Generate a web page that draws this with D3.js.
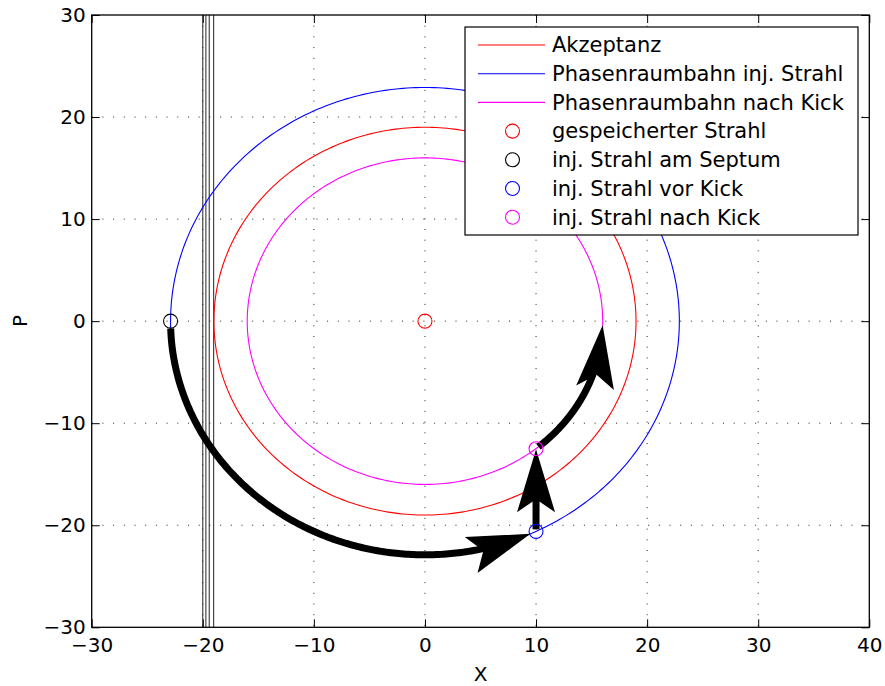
<!DOCTYPE html>
<html>
<head>
<meta charset="utf-8">
<script src="https://cdn.jsdelivr.net/npm/d3@7"></script>
<style>
  body { margin: 0; background: #fff; }
  svg { display: block; font-family: "DejaVu Sans", sans-serif; }
</style>
</head>
<body>
<svg id="chart"></svg>
<script>
// ticks
const xTicks = [-30, -20, -10, 0, 10, 20, 30, 40];
const yTicks = [-30, -20, -10, 0, 10, 20, 30];

// phase-space orbits (circles around origin)
const orbitNames = ["Akzeptanz", "Phasenraumbahn inj. Strahl", "Phasenraumbahn nach Kick"];
const orbitRadii = [19, 22.9, 16];
const orbitColors = ["#ff0000", "#0000ff", "#ff00ff"];

// beam positions
const beamNames = ["gespeicherter Strahl", "inj. Strahl am Septum", "inj. Strahl vor Kick", "inj. Strahl nach Kick"];
const beamX = [0, -22.9, 10, 10];
const beamY = [0, 0, -20.6, -12.5];
const beamColors = ["#ff0000", "#000000", "#0000ff", "#ff00ff"];

// septum blades
const septumX = [-20, -19.72, -19.42, -19.02];

// arrows: arcs [radius, start angle, end angle] (deg) and one straight kick
const arcRadius = [22.9, 16];
const arcStart = [181.8, -50.3];
const arcEnd = [294.5, -1.4];
const kickX = [10, 10];
const kickY = [-20.4, -12.55];

const width = 885, height = 686;
const margin = { left: 91.7, right: 885 - 869.3, top: 15, bottom: 686 - 627.3 };
const iw = width - margin.left - margin.right;
const ih = height - margin.top - margin.bottom;

const svg = d3.select("#chart").attr("width", width).attr("height", height);
const g = svg.append("g").attr("transform", `translate(${margin.left},${margin.top})`);

const x = d3.scaleLinear().domain([-30, 40]).range([0, iw]);
const y = d3.scaleLinear().domain([-30, 30]).range([ih, 0]);

// grid
g.append("g").selectAll("line").data(xTicks.slice(1, -1)).join("line")
  .attr("x1", d => x(d)).attr("x2", d => x(d)).attr("y1", 0).attr("y2", ih)
  .attr("stroke", "#222").attr("stroke-width", 1).attr("stroke-dasharray", "1,9.7");
g.append("g").selectAll("line").data(yTicks.slice(1, -1)).join("line")
  .attr("y1", d => y(d)).attr("y2", d => y(d)).attr("x1", 0).attr("x2", iw)
  .attr("stroke", "#222").attr("stroke-width", 1).attr("stroke-dasharray", "1,9.7");

// septum
g.append("g").selectAll("line").data(septumX).join("line")
  .attr("x1", d => x(d)).attr("x2", d => x(d)).attr("y1", 0).attr("y2", ih)
  .attr("stroke", "#222").attr("stroke-width", 1);

// orbits
const circ = d3.range(0, 361, 1);
const circleLine = r => d3.line()
  .x(t => x(r * Math.cos(t * Math.PI / 180)))
  .y(t => y(r * Math.sin(t * Math.PI / 180)))(circ);
orbitRadii.forEach((r, i) => {
  g.append("path").attr("d", circleLine(r)).attr("fill", "none")
    .attr("stroke", orbitColors[i]).attr("stroke-width", 1.1);
});

// arrows
const headLen = 63, headHalf = 19, notch = 50;
function drawArrow(pts) {
  // pts in pixels; tip is last point
  const tip = pts[pts.length - 1];
  const back = s => {
    let a = 0;
    for (let i = pts.length - 1; i > 0; i--) {
      const l = Math.hypot(pts[i][0] - pts[i - 1][0], pts[i][1] - pts[i - 1][1]);
      if (a + l >= s) {
        const f = (s - a) / l;
        return { i: i, p: [pts[i][0] + (pts[i - 1][0] - pts[i][0]) * f, pts[i][1] + (pts[i - 1][1] - pts[i][1]) * f] };
      }
      a += l;
    }
    return { i: 1, p: pts[0] };
  };
  const ref = back(headLen * 0.45).p;
  let ux = tip[0] - ref[0], uy = tip[1] - ref[1];
  const ul = Math.hypot(ux, uy); ux /= ul; uy /= ul;
  const nx = -uy, ny = ux;
  const nb = back(notch - 3);
  const shaft = pts.slice(0, nb.i).concat([nb.p]);
  g.append("path").attr("d", d3.line()(shaft)).attr("fill", "none")
    .attr("stroke", "#000").attr("stroke-width", 7);
  const base = [tip[0] - headLen * ux, tip[1] - headLen * uy];
  const head = [
    tip,
    [base[0] + headHalf * nx, base[1] + headHalf * ny],
    [tip[0] - notch * ux, tip[1] - notch * uy],
    [base[0] - headHalf * nx, base[1] - headHalf * ny]
  ];
  g.append("path").attr("d", d3.line()(head) + "Z").attr("fill", "#000");
}
const arcPts = (r, a0, a1) => d3.range(0, 201).map(k => {
  const t = (a0 + (a1 - a0) * k / 200) * Math.PI / 180;
  return [x(r * Math.cos(t)), y(r * Math.sin(t))];
});
drawArrow(arcPts(arcRadius[0], arcStart[0], arcEnd[0]));
drawArrow(d3.range(0, 41).map(k => [x(kickX[0] + (kickX[1] - kickX[0]) * k / 40), y(kickY[0] + (kickY[1] - kickY[0]) * k / 40)]));
drawArrow(arcPts(arcRadius[1], arcStart[1], arcEnd[1]));

// markers
g.append("g").selectAll("circle").data(beamX).join("circle")
  .attr("cx", d => x(d)).attr("cy", (d, i) => y(beamY[i])).attr("r", 7)
  .attr("fill", "none").attr("stroke", (d, i) => beamColors[i]).attr("stroke-width", 1.1);

// axes (ticks inside on all four sides)
const tickLen = 8;
const fontSize = 20;
const legendFont = 21;
const fmt = d => d < 0 ? "\u2212" + Math.abs(d) : d;
const axB = g.append("g").attr("transform", `translate(0,${ih})`)
  .call(d3.axisBottom(x).tickValues(xTicks).tickSizeInner(-tickLen).tickSizeOuter(0).tickPadding(7).tickFormat(fmt));
const axT = g.append("g").call(d3.axisTop(x).tickValues(xTicks).tickSizeInner(-tickLen).tickSizeOuter(0).tickFormat(""));
const axL = g.append("g")
  .call(d3.axisLeft(y).tickValues(yTicks).tickSizeInner(-tickLen).tickSizeOuter(0).tickPadding(6).tickFormat(fmt));
const axR = g.append("g").attr("transform", `translate(${iw},0)`)
  .call(d3.axisRight(y).tickValues(yTicks).tickSizeInner(-tickLen).tickSizeOuter(0).tickFormat(""));
[axB, axT, axL, axR].forEach(a => {
  a.select(".domain").remove();
  a.selectAll("line").attr("stroke", "#000").attr("stroke-width", 1);
  a.selectAll("text").attr("font-size", fontSize).attr("font-family", "DejaVu Sans, sans-serif").attr("fill", "#000");
});
axB.selectAll("text").attr("dy", "0.9em");

g.append("rect").attr("width", iw).attr("height", ih)
  .attr("fill", "none").attr("stroke", "#000").attr("stroke-width", 1.3);

// axis labels
svg.append("text").attr("x", margin.left + iw / 2).attr("y", 681)
  .attr("text-anchor", "middle").attr("font-size", fontSize).text("X");
svg.append("text").attr("transform", `translate(27,321) rotate(-90)`)
  .attr("text-anchor", "middle").attr("font-size", fontSize).text("P");

// legend
const leg = svg.append("g");
leg.append("rect").attr("x", 465).attr("y", 27).attr("width", 393).attr("height", 208)
  .attr("fill", "#fff").attr("stroke", "#000").attr("stroke-width", 1.2);
const rowY = i => 45 + i * 28.7;
orbitNames.forEach((n, i) => {
  leg.append("line").attr("x1", 478).attr("x2", 545).attr("y1", rowY(i)).attr("y2", rowY(i))
    .attr("stroke", orbitColors[i]).attr("stroke-width", 1.1);
  leg.append("text").attr("x", 552).attr("y", rowY(i)).attr("dy", "0.35em")
    .attr("font-size", legendFont).text(n);
});
beamNames.forEach((n, j) => {
  const i = j + orbitNames.length;
  leg.append("circle").attr("cx", 512.5).attr("cy", rowY(i)).attr("r", 7)
    .attr("fill", "none").attr("stroke", beamColors[j]).attr("stroke-width", 1.1);
  leg.append("text").attr("x", 552).attr("y", rowY(i)).attr("dy", "0.35em")
    .attr("font-size", legendFont).text(n);
});
</script>
</body>
</html>
